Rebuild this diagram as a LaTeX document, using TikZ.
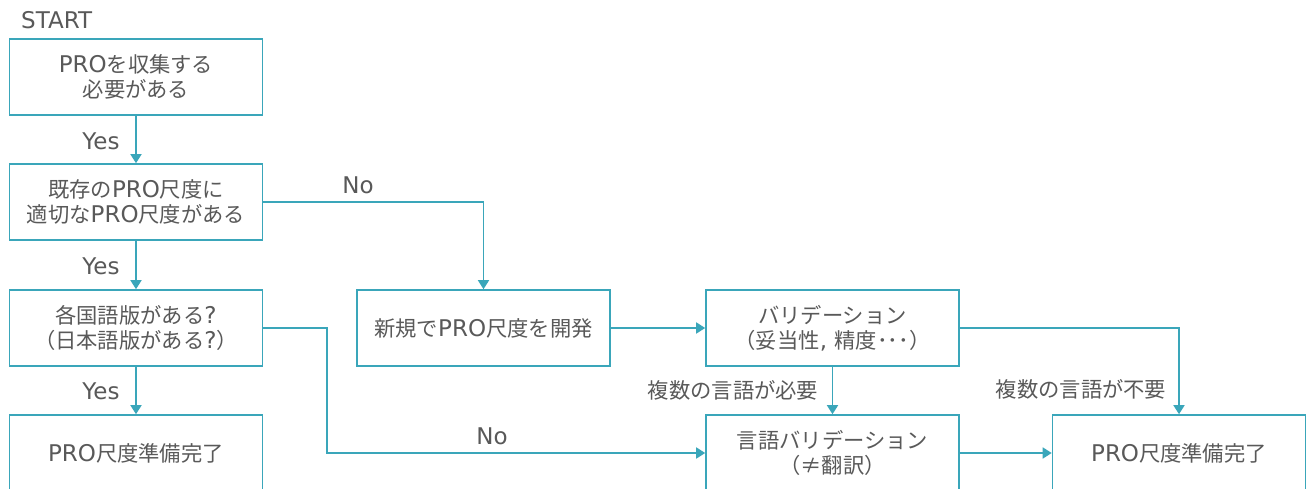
\documentclass[tikz,border=0pt]{standalone}
\usepackage{fontspec}
\setmainfont{Noto Sans CJK JP}
\newfontfamily\latf[Scale=1.08]{DejaVu Sans}
\newcommand\LT[1]{{\latf #1}}
\usetikzlibrary{arrows.meta,positioning}
\definecolor{linec}{RGB}{58,166,186}
\definecolor{txt}{RGB}{89,89,89}
\tikzset{
  box/.style={draw=linec, line width=1.6pt, minimum width=253pt, minimum height=76pt, inner sep=0pt, align=center, text=txt, font=\fontsize{21.3}{25}\selectfont},
  lbl/.style={text=txt, inner sep=0pt, font=\fontsize{21.3}{25}\selectfont},
  conn/.style={draw=linec, line width=1.6pt, -{Triangle[width=11pt,length=9pt]}},
}
\begin{document}
\begin{tikzpicture}[x=1pt,y=-1pt]
\clip (0,0) rectangle (1306,489);
\fill[white] (0,0) rectangle (1306,489);
\node[box] (b1) at (136,77) {\LT{PRO}を収集する\\必要がある};
\node[box] (b2) at (136,202) {既存の\LT{PRO}尺度に\\適切な\LT{PRO}尺度がある};
\node[box] (b3) at (136,328) {各国語版がある\LT{?}\\（日本語版がある\LT{?}）};
\node[box] (b4) at (136,453) {\LT{PRO}尺度準備完了};
\node[box] (n1) at (483.5,328) {新規で\LT{PRO}尺度を開発};
\node[box] (v) at (832.5,328) {バリデーション\\（妥当性\LT{, }精度･･･）};
\node[box] (lv) at (832.5,453) {言語バリデーション\\（≠翻訳）};
\node[box] (f) at (1179,453) {\LT{PRO}尺度準備完了};
\node[lbl, anchor=west] (start) at (21,20) {\LT{START}};
\node[lbl] (y1) at (101,141) {\LT{Yes}};
\node[lbl] (y2) at (101,266) {\LT{Yes}};
\node[lbl] (y3) at (101,391) {\LT{Yes}};
\node[lbl] (no1) at (358,185) {\LT{No}};
\node[lbl] (no2) at (492,436) {\LT{No}};
\node[lbl] (need) at (733,390) {複数の言語が必要};
\node[lbl] (noneed) at (1081,389) {複数の言語が不要};
\coordinate (c1) at (327,328);
\coordinate (c2) at (327,453);
\draw[conn] (b1) -- (b2);
\draw[conn] (b2) -- (b3);
\draw[conn] (b3) -- (b4);
\draw[conn] (b2.east) -| (n1.north);
\draw[conn] (b3.east) -- (c1) -- (c2) -- (lv.west);
\draw[conn] (n1) -- (v);
\draw[conn] (v) -- (lv);
\draw[conn] (v.east) -| (f.north);
\draw[conn] (lv) -- (f);
\end{tikzpicture}
\end{document}
